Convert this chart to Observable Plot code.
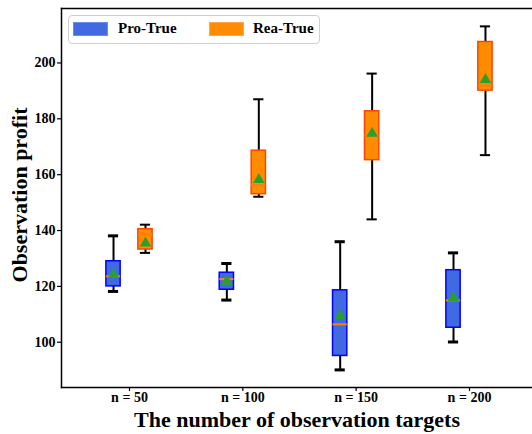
<!DOCTYPE html>
<html>
<head>
<meta charset="utf-8">
<script src="https://cdn.jsdelivr.net/npm/d3@7"></script>
<script src="https://cdn.jsdelivr.net/npm/@observablehq/plot@0.6"></script>
<style>
  body { margin: 0; background: #fff; }
  #wrap { position: relative; width: 532px; height: 434px; overflow: hidden; font-family: "Liberation Serif", "Times New Roman", serif; }
  #legend { position: absolute; left: 68px; top: 15px; width: 250px; height: 27px; border: 1.5px solid #cfcfcf; border-radius: 4px; background: rgba(255,255,255,0.85); }
  .sw { position: absolute; top: 6px; width: 33px; height: 12px; }
  .lt { position: absolute; top: 3px; font-weight: bold; font-size: 15px; line-height: 18px; color: #000; }
</style>
</head>
<body>
<div id="wrap">
  <div id="chart"></div>
  <div id="legend">
    <div class="sw" style="left:4px;background:#4169E1;border:0.5px solid #6a8cf0"></div>
    <div class="lt" style="left:49px">Pro-True</div>
    <div class="sw" style="left:140px;background:#FF8C00;border:0.5px solid #ffa64d"></div>
    <div class="lt" style="left:184px">Rea-True</div>
  </div>
</div>
<script>
const groups = ["n = 50", "n = 100", "n = 150", "n = 200"];
const yTicks = [100, 120, 140, 160, 180, 200];

// Pro-True
const proLow    = [118.2, 115.1,  90.1, 100.1];
const proQ1     = [120.0, 118.8,  95.1, 105.2];
const proMedian = [123.6, 122.6, 106.4, 115.0];
const proQ3     = [129.0, 124.9, 118.6, 125.8];
const proHigh   = [138.1, 128.2, 136.0, 132.0];
const proMean   = [124.2, 121.8, 109.4, 116.0];

// Rea-True
const reaLow    = [132.0, 152.1, 144.0, 167.0];
const reaQ1     = [133.2, 153.0, 165.2, 190.1];
const reaMedian = [138.6, 156.3, 174.0, 191.9];
const reaQ3     = [140.5, 168.6, 182.7, 207.5];
const reaHigh   = [142.1, 187.0, 196.2, 213.1];
const reaMean   = [135.5, 158.2, 174.8, 194.0];

const off = 0.141, hw = 0.063, cw = 0.045;
function build(series, sign, low, q1, med, q3, high, mean) {
  return groups.map((g, i) => {
    const x = i + 1 + sign * off;
    return {series, x, x1: x - hw, x2: x + hw, c1: x - cw, c2: x + cw,
      low: low[i], q1: q1[i], med: med[i], q3: q3[i], high: high[i], mean: mean[i]};
  });
}
const pro = build("Pro-True", -1, proLow, proQ1, proMedian, proQ3, proHigh, proMean);
const rea = build("Rea-True", 1, reaLow, reaQ1, reaMedian, reaQ3, reaHigh, reaMean);

function boxMarks(d, fill, edge, capW) {
  return [
    Plot.ruleX(d, {x: "x", y1: "low", y2: "q1", stroke: "#000", strokeWidth: 2}),
    Plot.ruleX(d, {x: "x", y1: "q3", y2: "high", stroke: "#000", strokeWidth: 2}),
    Plot.ruleY(d, {y: "low", x1: "c1", x2: "c2", stroke: "#000", strokeWidth: capW}),
    Plot.ruleY(d, {y: "high", x1: "c1", x2: "c2", stroke: "#000", strokeWidth: capW}),
    Plot.rect(d, {x1: "x1", x2: "x2", y1: "q1", y2: "q3", fill, stroke: edge, strokeWidth: 1.5}),
    Plot.ruleY(d, {y: "med", x1: "x1", x2: "x2", stroke: "#ff7f0e", strokeWidth: 2}),
    Plot.dot(d, {x: "x", y: "mean", symbol: "triangle", fill: "#2ca02c", r: 4.3})
  ];
}

const chart = Plot.plot({
  width: 532,
  height: 434,
  marginLeft: 61,
  marginRight: 0,
  marginTop: 8,
  marginBottom: 47,
  style: {fontFamily: "Liberation Serif, Times New Roman, serif", fontWeight: "bold", fontSize: "14px", color: "#000", background: "#fff"},
  x: {domain: [0.4, 4.556]},
  y: {domain: [83.8, 219.5]},
  marks: [
    Plot.frame({anchor: "left", stroke: "#000", strokeWidth: 1.5}),
    Plot.frame({anchor: "top", stroke: "#000", strokeWidth: 1.5}),
    Plot.frame({anchor: "bottom", stroke: "#000", strokeWidth: 1.5}),
    Plot.axisX({ticks: [1, 2, 3, 4], tickFormat: (d) => groups[d - 1], tickSize: 4, tickPadding: 1, label: null, strokeWidth: 1.2}),
    Plot.axisY({ticks: yTicks, tickSize: 4, tickPadding: 2, label: null, strokeWidth: 1.2}),
    ...boxMarks(pro, "#4169E1", "#0000FF", 3),
    ...boxMarks(rea, "#FF8C00", "#FF4500", 2),
    Plot.text(["The number of observation targets"], {frameAnchor: "bottom", lineAnchor: "middle", dy: 32, fontSize: 22, fontWeight: "bold", fill: "#000"}),
    Plot.text(["Observation profit"], {frameAnchor: "left", textAnchor: "middle", lineAnchor: "middle", dx: -42, dy: -3, rotate: -90, fontSize: 22, fontWeight: "bold", fill: "#000"})
  ]
});
document.getElementById("chart").appendChild(chart);
</script>
</body>
</html>
